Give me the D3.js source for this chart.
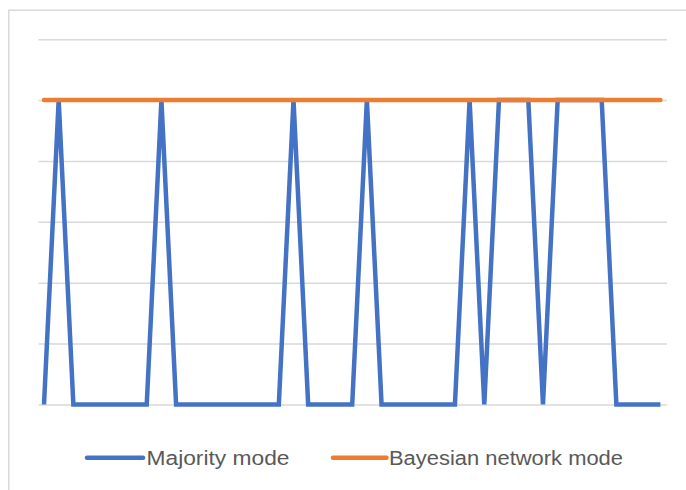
<!DOCTYPE html>
<html>
<head>
<meta charset="utf-8">
<script src="https://cdn.jsdelivr.net/npm/d3@7/dist/d3.min.js"></script>
<style>
  html, body { margin: 0; padding: 0; background: #ffffff; }
  svg { display: block; }
</style>
</head>
<body>
<svg id="chart" width="686" height="490"></svg>
<script>
// ---- Data ----
const categories = d3.range(1, 44); // 43 observations
const majorityMode = [0,1,0,0,0,0,0,0,1,0,0,0,0,0,0,0,0,1,0,0,0,0,1,0,0,0,0,0,0,1,0,1,1,1,0,1,1,1,1,0,0,0,0];
const bayesianMode = [1,1,1,1,1,1,1,1,1,1,1,1,1,1,1,1,1,1,1,1,1,1,1,1,1,1,1,1,1,1,1,1,1,1,1,1,1,1,1,1,1,1,1];
const yTicks = [0, 0.2, 0.4, 0.6, 0.8, 1.0, 1.2];
const seriesNames = ["Majority mode", "Bayesian network mode"];

// ---- Layout ----
const svg = d3.select("#chart");
const W = 686, H = 490;
const plot = { left: 38.5, right: 667, top: 39.2, bottom: 404.5 };
const colors = ["#4472C4", "#ED7D31"];

// outer chart border (extends beyond the photo on right and bottom)
svg.append("rect")
  .attr("x", 8.75).attr("y", 10.25)
  .attr("width", 720).attr("height", 520)
  .attr("fill", "#ffffff")
  .attr("stroke", "#D9D9D9").attr("stroke-width", 1.5);

const x = d3.scalePoint().domain(categories).range([44, 660.4]);
const y = d3.scaleLinear().domain([0, 1.2]).range([plot.bottom, plot.top]);

// gridlines via axis
const grid = svg.append("g")
  .attr("transform", `translate(${plot.left},0)`)
  .call(d3.axisLeft(y).tickValues(yTicks).tickSize(-(plot.right - plot.left)).tickFormat(""));
grid.select(".domain").remove();
grid.selectAll(".tick line").attr("stroke", "#D9D9D9").attr("stroke-width", 1.5);

const line = d3.line().x((d, i) => x(categories[i])).y(d => y(d));

svg.append("path")
  .datum(majorityMode)
  .attr("d", line)
  .attr("fill", "none")
  .attr("stroke", colors[0])
  .attr("stroke-width", 4.5)
  .attr("stroke-linejoin", "miter")
  .attr("stroke-linecap", "butt");

svg.append("path")
  .datum(bayesianMode)
  .attr("d", line)
  .attr("fill", "none")
  .attr("stroke", colors[1])
  .attr("stroke-width", 4.5)
  .attr("stroke-linecap", "round");

// ---- Legend ----
const legendY = 457.7;
const legendItems = [
  { name: seriesNames[0], color: colors[0], x1: 87, x2: 143, tx: 146.5, tw: 143 },
  { name: seriesNames[1], color: colors[1], x1: 333, x2: 386.5, tx: 389, tw: 234 }
];
const lg = svg.append("g");
legendItems.forEach(it => {
  lg.append("line")
    .attr("x1", it.x1).attr("x2", it.x2)
    .attr("y1", legendY).attr("y2", legendY)
    .attr("stroke", it.color).attr("stroke-width", 4.5)
    .attr("stroke-linecap", "round");
  lg.append("text")
    .attr("x", it.tx).attr("y", legendY + 7.3)
    .attr("font-family", "'Liberation Sans', Arial, sans-serif")
    .attr("font-size", 20)
    .attr("fill", "#595959")
    .attr("textLength", it.tw)
    .attr("lengthAdjust", "spacingAndGlyphs")
    .text(it.name);
});
</script>
</body>
</html>
